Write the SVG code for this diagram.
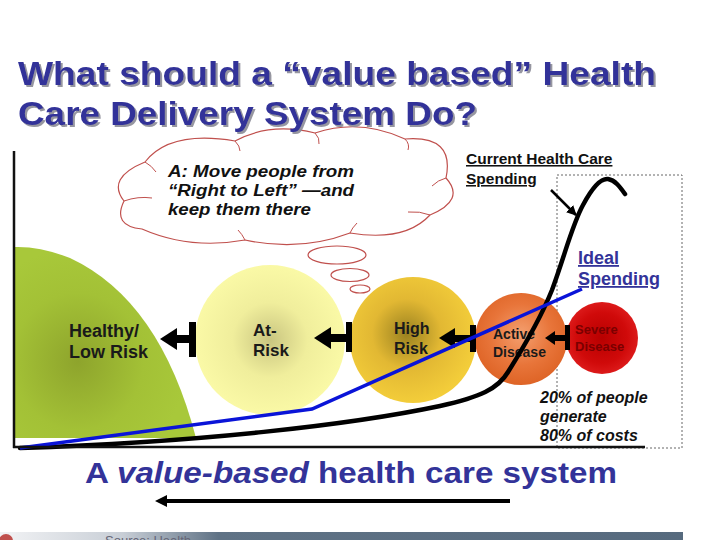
<svg xmlns="http://www.w3.org/2000/svg" width="720" height="540" viewBox="0 0 720 540">
<defs>
<style>
.title{font-family:"Liberation Sans",Arial,sans-serif;font-weight:bold;font-size:33px;fill:#333399}
.lbl{font-family:"Liberation Sans",Arial,sans-serif;font-weight:bold;fill:#1a1a1a}
.bi{font-family:"Liberation Sans",Arial,sans-serif;font-weight:bold;font-style:italic;fill:#111}
.cloud{fill:#fff;stroke:#c0504d;stroke-width:1.2}
.tbar{fill:#000}
</style>
<filter id="shadow" x="-5%" y="-20%" width="110%" height="140%">
<feDropShadow dx="2" dy="2" stdDeviation="0.6" flood-color="#8a8a96" flood-opacity="0.9"/>
</filter>
<radialGradient id="gGreen" cx="0.35" cy="0.6" r="0.6">
<stop offset="0" stop-color="#8ea42c"/><stop offset="0.6" stop-color="#a3c136"/><stop offset="1" stop-color="#a8c83a"/>
</radialGradient>
<radialGradient id="gAt" cx="0.5" cy="0.5" r="0.5">
<stop offset="0" stop-color="#c9c580"/><stop offset="0.5" stop-color="#f0ee9c"/><stop offset="1" stop-color="#faf9a6"/>
</radialGradient>
<radialGradient id="gHigh" cx="0.45" cy="0.45" r="0.55">
<stop offset="0" stop-color="#9a8120"/><stop offset="0.5" stop-color="#e2b833"/><stop offset="1" stop-color="#f3cd3a"/>
</radialGradient>
<radialGradient id="gActive" cx="0.5" cy="0.45" r="0.55">
<stop offset="0" stop-color="#f4a070"/><stop offset="0.6" stop-color="#e8753a"/><stop offset="1" stop-color="#de6426"/>
</radialGradient>
<radialGradient id="gSevere" cx="0.5" cy="0.5" r="0.5">
<stop offset="0" stop-color="#b80000"/><stop offset="0.7" stop-color="#d00a0a"/><stop offset="1" stop-color="#dc1a1a"/>
</radialGradient>
<linearGradient id="gStrip" x1="0" y1="0" x2="1" y2="0">
<stop offset="0" stop-color="#f2f3f5"/><stop offset="0.18" stop-color="#c8ced6"/><stop offset="0.32" stop-color="#5f7285"/><stop offset="1" stop-color="#566a7e"/>
</linearGradient>
<marker id="arr" viewBox="0 0 10 10" refX="9" refY="5" markerWidth="4" markerHeight="4" orient="auto">
<path d="M0,0 L10,5 L0,10 z" fill="#000"/>
</marker>
</defs>
<rect width="720" height="540" fill="#fff"/>

<!-- spending area box -->
<rect x="557" y="175" width="125" height="273" fill="none" stroke="#666" stroke-width="1" stroke-dasharray="2,2"/>

<!-- nodes -->
<g id="healthy">
<path d="M14,438 L14,247 Q40,246 70,258 Q160,300 196,438 Z" fill="url(#gGreen)"/>
<text class="lbl" font-size="18" x="69" y="337">Healthy/</text>
<text class="lbl" font-size="18" x="69" y="358">Low Risk</text>
</g>
<g id="at-risk">
<circle cx="270" cy="340" r="75" fill="url(#gAt)"/>
<text class="lbl" font-size="17" x="253" y="336">At-</text>
<text class="lbl" font-size="17" x="253" y="356">Risk</text>
</g>
<g id="high-risk">
<circle cx="413" cy="340" r="63" fill="url(#gHigh)"/>
<text class="lbl" font-size="16" x="394" y="334">High</text>
<text class="lbl" font-size="16" x="394" y="354">Risk</text>
</g>
<g id="active">
<circle cx="521" cy="339" r="46" fill="url(#gActive)"/>
<text class="lbl" font-size="14" x="493" y="339" fill="#2a1a10">Active</text>
<text class="lbl" font-size="14" x="493" y="357" fill="#2a1a10">Disease</text>
</g>
<g id="severe">
<circle cx="602" cy="338" r="36" fill="url(#gSevere)"/>
<text class="lbl" font-size="13" x="575" y="334" style="fill:#7a0000">Severe</text>
<text class="lbl" font-size="13" x="575" y="351" style="fill:#7a0000">Disease</text>
</g>

<!-- connectors -->
<g id="connectors">
<g id="t1"><rect class="tbar" x="189" y="322" width="7" height="35"/><rect class="tbar" x="172" y="335" width="19" height="8"/><path class="tbar" d="M160,339 L177,328 L177,350 Z"/></g>
<g id="t2"><rect class="tbar" x="346" y="322" width="6" height="30"/><rect class="tbar" x="328" y="334" width="19" height="8"/><path class="tbar" d="M314,338 L331,327 L331,349 Z"/></g>
<g id="t3"><rect class="tbar" x="470" y="325" width="6" height="27"/><rect class="tbar" x="452" y="335" width="19" height="7"/><path class="tbar" d="M439,338 L455,328 L455,348 Z"/></g>
<g id="t4"><rect class="tbar" x="565" y="325" width="5" height="25"/><rect class="tbar" x="552" y="335" width="14" height="6"/><path class="tbar" d="M545,338 L555,331 L555,345 Z"/></g>
<!-- current spending curve -->
<path d="M20,448 C200,442 350,425 440,406 C480,397 498,389 508,372 C525,345 540,320 552,290 C565,255 572,225 583,205 C592,188 600,178 608,179 C615,180 620,187 625,194" fill="none" stroke="#000" stroke-width="4.5" stroke-linecap="round"/>
<!-- ideal spending line -->
<polyline points="20,448 312,409 582,289" fill="none" stroke="#0a14d8" stroke-width="3.5"/>
<line x1="551" y1="190" x2="576" y2="215" stroke="#000" stroke-width="2.5" marker-end="url(#arr)"/>
<!-- bottom direction arrow -->
<line x1="510" y1="501" x2="163" y2="501" stroke="#000" stroke-width="4"/>
<path d="M155,501 L167,495 L167,507 Z" fill="#000"/>
</g>

<!-- axes -->
<g id="axes">
<line x1="14" y1="151" x2="14" y2="448" stroke="#111" stroke-width="2.5"/>
<line x1="13" y1="447" x2="645" y2="447" stroke="#111" stroke-width="2.5"/>
</g>

<!-- thought cloud -->
<g id="cloud">
<path class="cloud" d="M142,229 Q112,226 124,201 Q106,178 145,162 Q170,130 235,141 Q270,122 315,133 Q360,118 405,139 Q455,135 446,178 Q466,200 430,215 Q405,242 350,233 Q300,252 245,240 Q190,250 142,229 Z"/>
<path d="M124,201 Q138,196 152,198 M145,162 Q152,166 156,172 M235,141 Q240,146 240,151 M315,133 Q320,138 319,144 M405,139 Q410,144 408,150 M446,178 Q438,180 432,186 M430,215 Q420,211 408,212 M350,233 Q352,228 357,223 M245,240 Q242,234 238,230" fill="none" stroke="#c0504d" stroke-width="1"/>
<ellipse class="cloud" cx="337" cy="255" rx="29" ry="9"/>
<ellipse class="cloud" cx="350" cy="275" rx="19" ry="6.5"/>
<ellipse class="cloud" cx="360" cy="289" rx="10" ry="4"/>
<text class="bi" font-size="16" x="168" y="177" textLength="186" lengthAdjust="spacingAndGlyphs">A: Move people from</text>
<text class="bi" font-size="16" x="168" y="196" textLength="186" lengthAdjust="spacingAndGlyphs">“Right to Left” —and</text>
<text class="bi" font-size="16" x="168" y="215" textLength="143" lengthAdjust="spacingAndGlyphs">keep them there</text>
</g>

<!-- labels -->
<g id="current-label" font-family="Liberation Sans, Arial, sans-serif" font-weight="bold" font-size="15.5" fill="#111" text-decoration="underline">
<text x="466" y="164">Current Health Care</text>
<text x="466" y="184">Spending</text>
</g>
<g id="ideal-label" font-family="Liberation Sans, Arial, sans-serif" font-weight="bold" font-size="18" fill="#333399" text-decoration="underline">
<text x="578" y="264">Ideal</text>
<text x="578" y="285">Spending</text>
</g>
<g id="pct-label">
<text class="bi" font-size="16" x="540" y="403">20% of people</text>
<text class="bi" font-size="16" x="540" y="422">generate</text>
<text class="bi" font-size="16" x="540" y="441">80% of costs</text>
</g>

<!-- title -->
<g id="title" filter="url(#shadow)">
<text class="title" x="18" y="85" textLength="638" lengthAdjust="spacingAndGlyphs">What should a “value based” Health</text>
<text class="title" x="18" y="125" textLength="459" lengthAdjust="spacingAndGlyphs">Care Delivery System Do?</text>
</g>

<g id="subtitle">
<text x="85" y="483" font-family="Liberation Sans, Arial, sans-serif" font-weight="bold" font-size="30" fill="#333399" textLength="532" lengthAdjust="spacingAndGlyphs">A <tspan font-style="italic">value-based</tspan> health care system</text>
</g>

<!-- footer strip -->
<g id="footer">
<rect x="0" y="532" width="683" height="8" fill="url(#gStrip)"/>
<circle cx="6" cy="541" r="7" fill="#c0504d"/>
<text x="105" y="545" font-family="Liberation Sans, Arial, sans-serif" font-size="13" fill="#667">Source: Health</text>
</g>
</svg>
